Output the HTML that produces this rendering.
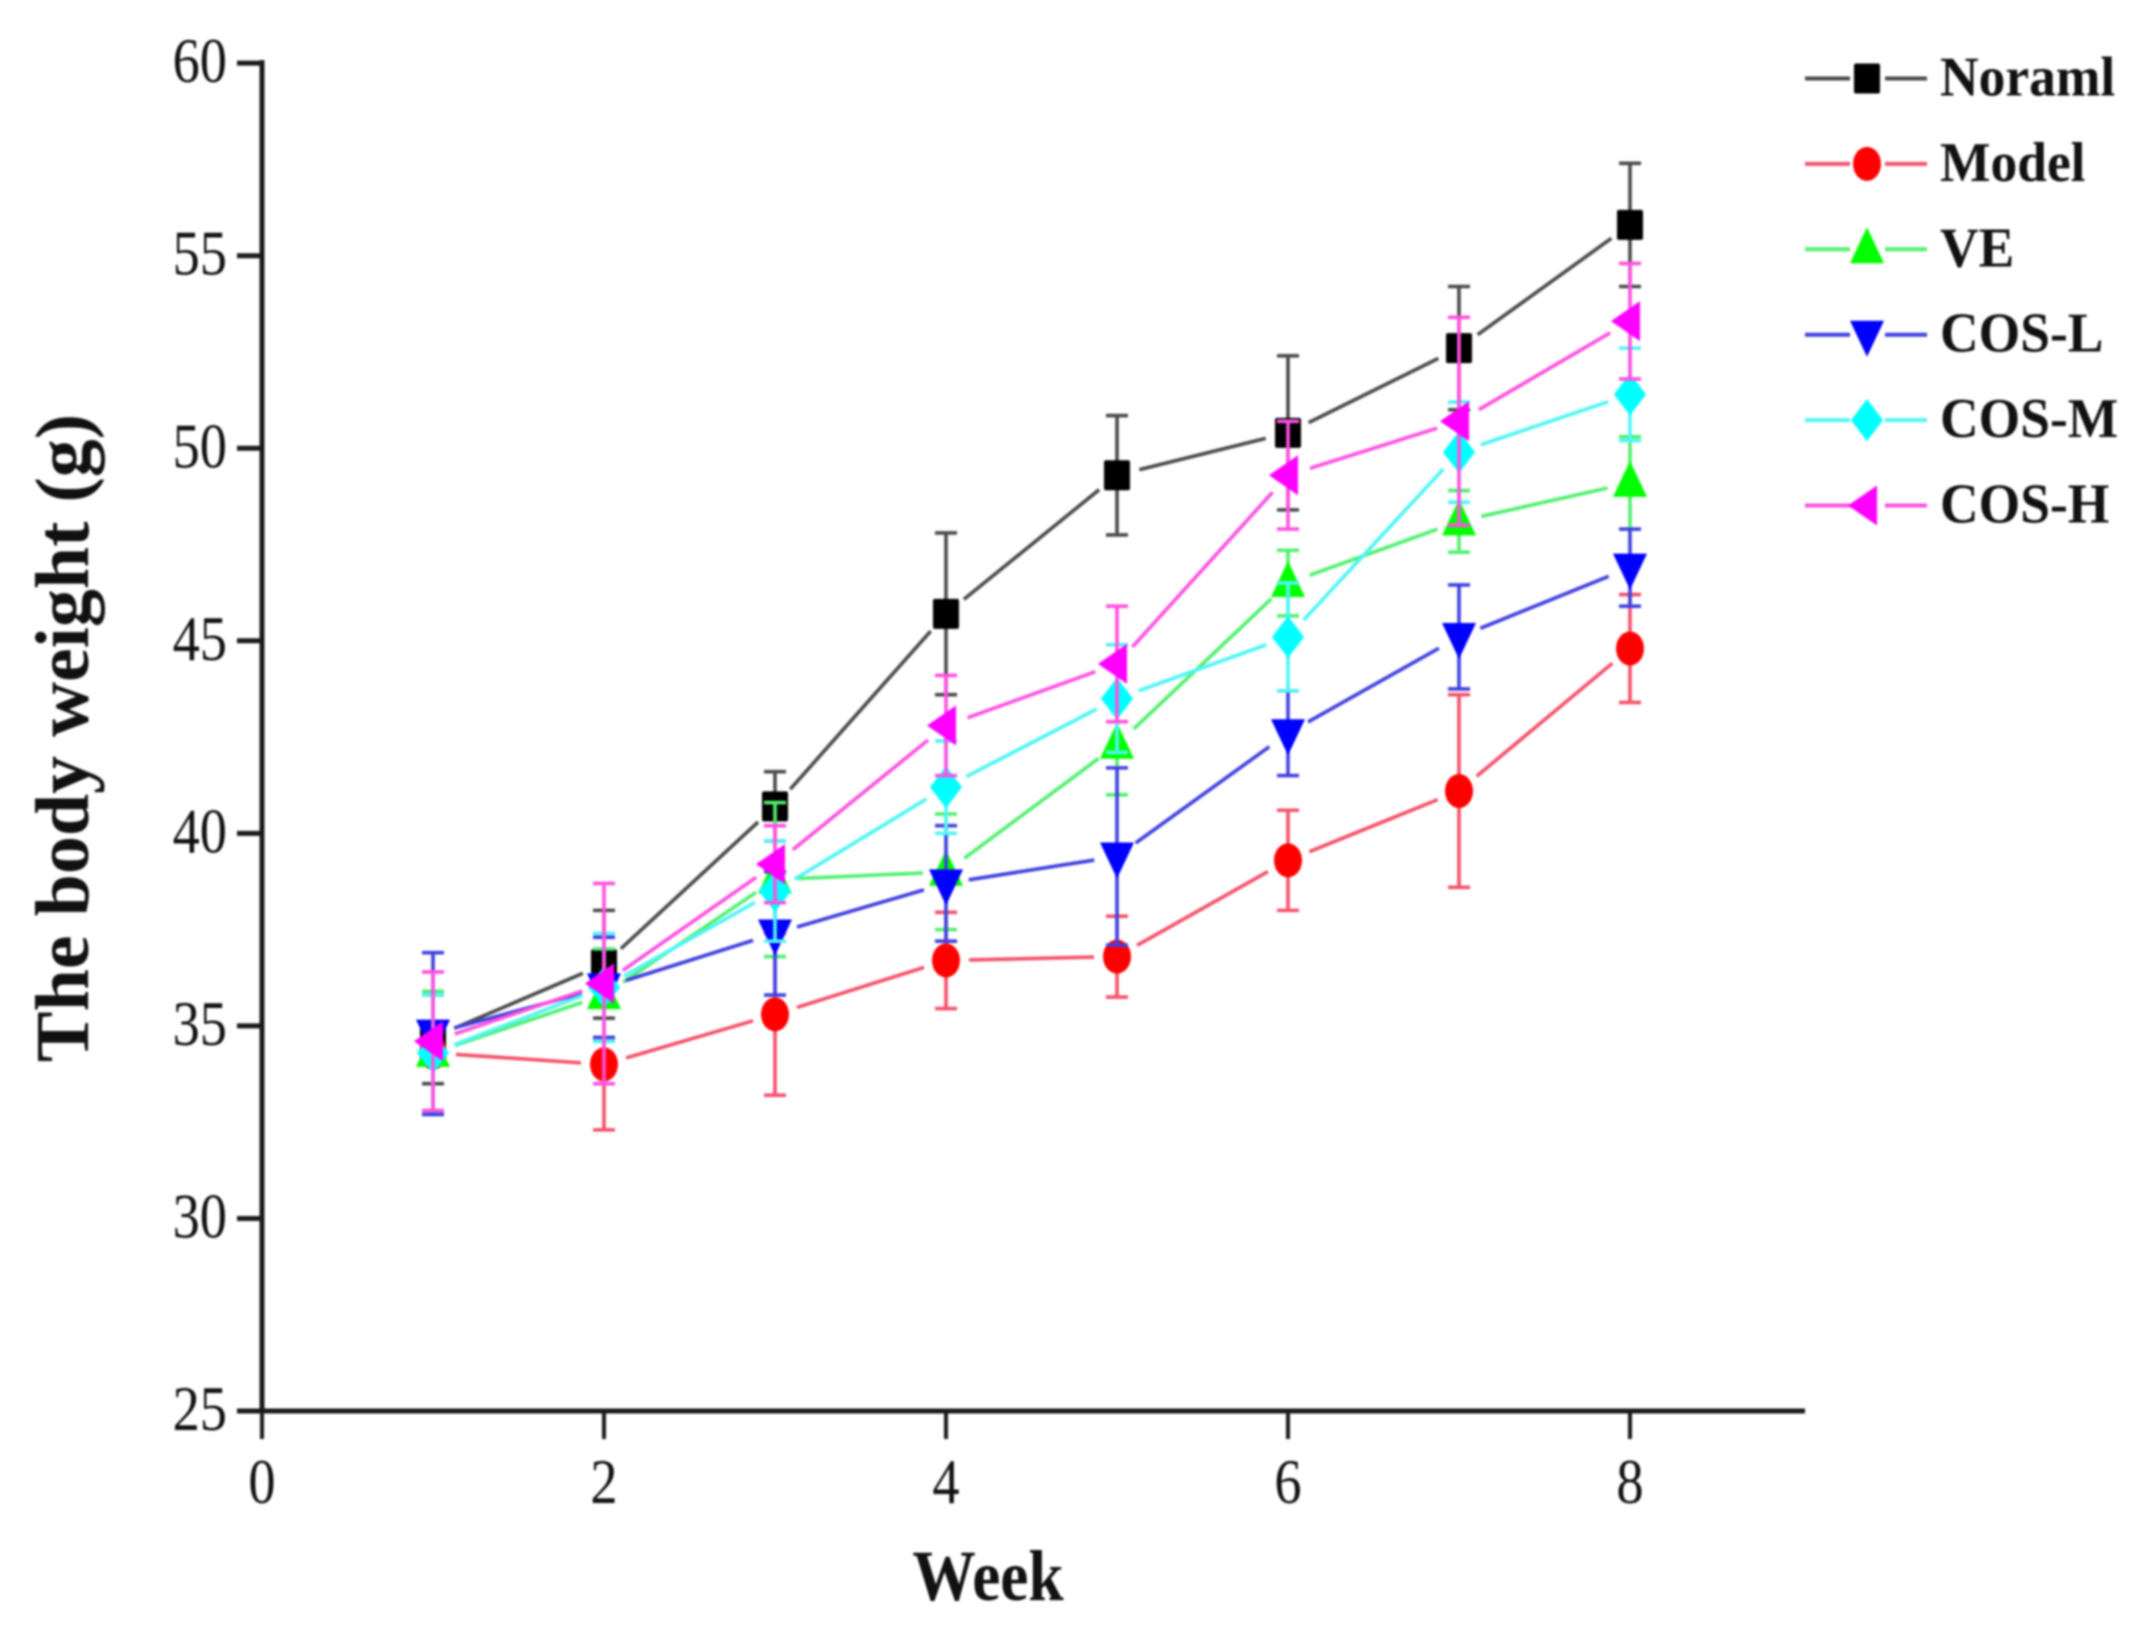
<!DOCTYPE html>
<html lang="en">
<head>
<meta charset="utf-8">
<title>The body weight by week</title>
<style>
  html, body { margin: 0; padding: 0; background: #fff; }
  #chart { display: block; width: 2147px; height: 1628px; filter: blur(1px); }
  text { font-family: "Liberation Serif", serif; fill: #111; }
</style>
</head>
<body>
<svg id="chart" xmlns="http://www.w3.org/2000/svg" width="2147" height="1628" viewBox="0 0 2147 1628">
  <rect x="0" y="0" width="2147" height="1628" fill="#fff"/>
  <g id="series-layer"></g>
  <g id="axis-layer"></g>
  <g id="legend-layer"></g>
  <text transform="translate(988,1600) scale(0.88,1)" text-anchor="middle" font-size="72" font-weight="bold">Week</text>
  <text transform="translate(88,738) rotate(-90)" text-anchor="middle" font-size="76" font-weight="bold">The body weight (g)</text>
</svg>
<script>
// Chart data
const weeks = [1, 2, 3, 4, 5, 6, 7, 8];
const xTickLabels = [0, 2, 4, 6, 8];
const yTickLabels = [25, 30, 35, 40, 45, 50, 55, 60];

const noramlValues = [34.7, 36.6, 40.7, 45.7, 49.3, 50.4, 52.6, 55.8];
const noramlErrors = [1.2, 1.4, 0.9, 2.1, 1.55, 2.0, 1.6, 1.6];
const modelValues = [34.3, 34.0, 35.3, 36.7, 36.8, 39.3, 41.1, 44.8];
const modelErrors = [1.5, 1.7, 2.1, 1.25, 1.05, 1.3, 2.5, 1.4];
const veValues = [34.3, 35.8, 38.8, 39.0, 42.3, 46.5, 48.1, 49.1];
const veErrors = [1.6, 1.2, 2.0, 1.5, 1.3, 0.85, 0.8, 1.2];
const cosLValues = [34.8, 36.0, 37.4, 38.7, 39.4, 42.6, 45.1, 46.9];
const cosLErrors = [2.1, 1.3, 1.6, 1.5, 2.3, 1.1, 1.35, 1.0];
const cosMValues = [34.3, 36.0, 38.5, 41.2, 43.5, 45.1, 49.9, 51.4];
const cosMErrors = [1.5, 1.4, 1.3, 1.2, 1.4, 1.4, 1.3, 1.2];
const cosHValues = [34.6, 36.1, 39.2, 42.8, 44.4, 49.3, 50.7, 53.3];
const cosHErrors = [1.8, 2.6, 1.0, 1.3, 1.5, 1.4, 2.7, 1.5];

const series = [
  { key: 'noraml', label: 'Noraml', values: noramlValues, errors: noramlErrors, marker: 'square', fill: '#000000', stroke: '#4a4a4a' },
  { key: 'model', label: 'Model', values: modelValues, errors: modelErrors, marker: 'circle', fill: '#ff0000', stroke: '#f5506a' },
  { key: 've', label: 'VE', values: veValues, errors: veErrors, marker: 'up', fill: '#00ff00', stroke: '#50f070' },
  { key: 'cos-l', label: 'COS-L', values: cosLValues, errors: cosLErrors, marker: 'down', fill: '#0000ff', stroke: '#4040e0' },
  { key: 'cos-m', label: 'COS-M', values: cosMValues, errors: cosMErrors, marker: 'diamond', fill: '#00ffff', stroke: '#50f5f5' },
  { key: 'cos-h', label: 'COS-H', values: cosHValues, errors: cosHErrors, marker: 'left', fill: '#ff00ff', stroke: '#ff50e0' }
];

// Axis functions
function xScale(v) { return 262 + v * 171; }
function yScale(v) { return 1411 - (v - 25) * 38.51; }

const NS = 'http://www.w3.org/2000/svg';
function make(tag, attrs, parent) {
  const el = document.createElementNS(NS, tag);
  for (const k in attrs) el.setAttribute(k, attrs[k]);
  parent.appendChild(el);
  return el;
}

function drawMarker(kind, cx, cy, fill, parent) {
  let el;
  if (kind === 'square') {
    el = make('rect', { x: cx - 13, y: cy - 15, width: 26, height: 30, rx: 2, fill: fill }, parent);
  } else if (kind === 'circle') {
    el = make('ellipse', { cx: cx, cy: cy, rx: 14, ry: 17, fill: fill }, parent);
  } else {
    let pts;
    if (kind === 'up') pts = [[cx, cy - 22], [cx + 17, cy + 14], [cx - 17, cy + 14]];
    if (kind === 'down') pts = [[cx - 17, cy - 14], [cx + 17, cy - 14], [cx, cy + 22]];
    if (kind === 'diamond') pts = [[cx, cy - 21], [cx + 16, cy], [cx, cy + 21], [cx - 16, cy]];
    if (kind === 'left') pts = [[cx - 19, cy], [cx + 10, cy - 20], [cx + 10, cy + 20]];
    el = make('polygon', { points: pts.map(p => p.join(',')).join(' '), fill: fill }, parent);
  }
  return el;
}

// Series
const seriesLayer = document.getElementById('series-layer');
series.forEach(function (s) {
  const group = make('g', {}, seriesLayer);
  
  

  // Connecting line segments, with gaps around the markers
  for (let i = 0; i < weeks.length - 1; i++) {
    const x1 = xScale(weeks[i]), y1 = yScale(s.values[i]);
    const x2 = xScale(weeks[i + 1]), y2 = yScale(s.values[i + 1]);
    const len = Math.hypot(x2 - x1, y2 - y1);
    const gap = 23;
    const ux = (x2 - x1) / len, uy = (y2 - y1) / len;
    const seg = make('line', {
      x1: x1 + ux * gap, y1: y1 + uy * gap,
      x2: x2 - ux * gap, y2: y2 - uy * gap,
      stroke: s.stroke, 'stroke-width': 3.6
    }, group);
    
    
  }

  // Error bars
  weeks.forEach(function (w, i) {
    const x = xScale(w);
    const top = yScale(s.values[i] + s.errors[i]);
    const bottom = yScale(s.values[i] - s.errors[i]);
    const bar = make('path', {
      d: 'M' + x + ' ' + top + 'V' + bottom + 'M' + (x - 11) + ' ' + top + 'H' + (x + 11) + 'M' + (x - 11) + ' ' + bottom + 'H' + (x + 11),
      stroke: s.stroke, 'stroke-width': 3.6, fill: 'none'
    }, group);
    
    
  });

  // Markers
  weeks.forEach(function (w, i) {
    const m = drawMarker(s.marker, xScale(w), yScale(s.values[i]), s.fill, group);
    
    
  });
});

// Axes
const axisLayer = document.getElementById('axis-layer');
const yAxisLine = make('line', { x1: xScale(0), y1: yScale(60) - 3, x2: xScale(0), y2: yScale(25), stroke: '#1a1a1a', 'stroke-width': 5 }, axisLayer);


const xAxisLine = make('line', { x1: xScale(0), y1: yScale(25), x2: 1805, y2: yScale(25), stroke: '#1a1a1a', 'stroke-width': 5 }, axisLayer);



xTickLabels.forEach(function (v) {
  const x = xScale(v);
  const tick = make('line', { x1: x, y1: yScale(25), x2: x, y2: yScale(25) + 28, stroke: '#1a1a1a', 'stroke-width': 4 }, axisLayer);
  
  
  const label = make('text', { transform: 'translate(' + x + ',1503) scale(0.85,1)', 'text-anchor': 'middle', 'font-size': 64 }, axisLayer);
  label.textContent = v;
  
  
});

yTickLabels.forEach(function (v) {
  const y = yScale(v);
  const tick = make('line', { x1: 237, y1: y, x2: xScale(0), y2: y, stroke: '#1a1a1a', 'stroke-width': 5 }, axisLayer);
  
  
  const label = make('text', { transform: 'translate(227,' + (y + 19) + ') scale(0.85,1)', 'text-anchor': 'end', 'font-size': 64 }, axisLayer);
  label.textContent = v;
  
  
});

// Legend
const legendLayer = document.getElementById('legend-layer');
series.forEach(function (s, i) {
  const y = 78.5 + i * 85.4;
  const entry = make('g', {}, legendLayer);
  
  
  const left = make('line', { x1: 1805, y1: y, x2: 1850, y2: y, stroke: s.stroke, 'stroke-width': 4 }, entry);
  
  
  const right = make('line', { x1: 1885, y1: y, x2: 1927, y2: y, stroke: s.stroke, 'stroke-width': 4 }, entry);
  
  
  const marker = drawMarker(s.marker, 1867, y, s.fill, entry);
  
  
  const label = make('text', { transform: 'translate(1940,' + (y + 17) + ') scale(0.955,1)', 'font-size': 56, 'font-weight': 'bold' }, entry);
  label.textContent = s.label;
  
  
});
</script>
</body>
</html>
